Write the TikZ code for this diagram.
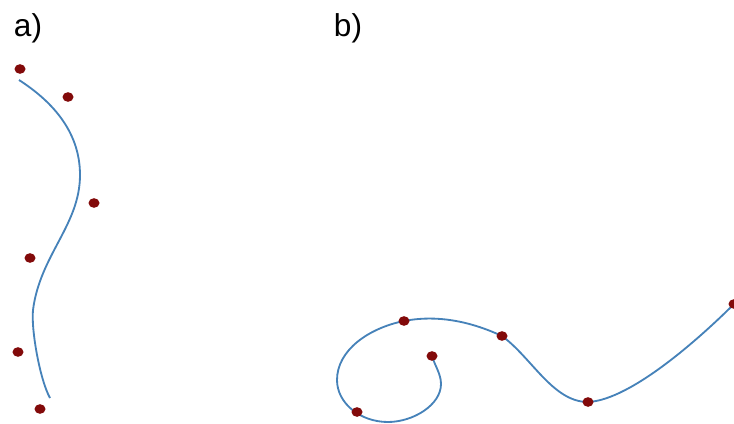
\documentclass[tikz,border=0pt]{standalone}
\usepackage{fontspec}
\setmainfont{Liberation Sans}
\usepackage{tikz}
\usetikzlibrary{positioning, backgrounds, shapes.geometric}
\definecolor{dotred}{RGB}{130, 10, 10}
\definecolor{curveblue}{RGB}{70, 130, 185}

\begin{document}
\begin{tikzpicture}[
    x=0.03cm, y=-0.03cm,
    dot/.style={ellipse, fill=dotred, inner sep=0pt, minimum width=3.3mm, minimum height=2.9mm},
    curve/.style={draw=curveblue, line width=0.55mm},
    tag/.style={font=\fontsize{27}{30}\selectfont, anchor=center}
]
    \useasboundingbox (0,0) rectangle (734,423);
    \clip (0,0) rectangle (734,423);

    \node[tag] (taga) at (28,28) {a)};
    \node[tag] (tagb) at (348,28) {b)};

    % a) control points, curve approximates them
    \node[dot] (a1) at (20,69) {};
    \node[dot] (a2) at (68,97) {};
    \node[dot] (a3) at (94,203) {};
    \node[dot] (a4) at (30,258) {};
    \node[dot] (a5) at (18,352) {};
    \node[dot] (a6) at (40,409) {};

    \coordinate (astart) at (19,80);
    \coordinate (aend) at (50,398);

    \begin{scope}[on background layer]
    \draw[curve] (astart) .. controls (50,100) and (80,130) .. (80,175)
        .. controls (80,225) and (40,255) .. (33,310)
        .. controls (31,330) and (40,380) .. (aend);
    \end{scope}

    % b) interpolated points, curve passes through them
    \node[dot] (b1) at (432,356) {};
    \node[dot] (b2) at (357,412) {};
    \node[dot] (b3) at (404,321) {};
    \node[dot] (b4) at (502,336) {};
    \node[dot] (b5) at (588,402) {};
    \node[dot] (b6) at (734,304) {};

    \begin{scope}[on background layer]
    \draw[curve] (b1.center) .. controls (435,366) and (441,374) .. (441,384)
        .. controls (441,405) and (413,422) .. (388,422)
        .. controls (360,422) and (337,403) .. (337,380)
        .. controls (337,350) and (369,328) .. (b3.center)
        .. controls (440,314) and (474,323) .. (b4.center)
        .. controls (532,358) and (553,402) .. (b5.center)
        .. controls (632,400) and (704,334) .. (b6.center);
    \end{scope}
\end{tikzpicture}
\end{document}
